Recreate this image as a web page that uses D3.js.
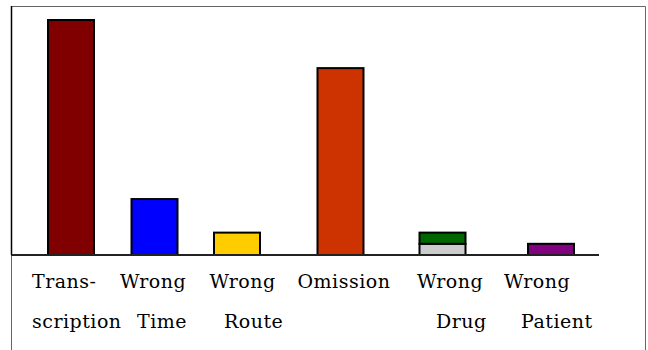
<!DOCTYPE html>
<html>
<head>
<meta charset="utf-8">
<script src="https://cdn.jsdelivr.net/npm/d3@7"></script>
<style>
  html, body { margin: 0; padding: 0; background: #fff; }
  svg { display: block; }
  .label { font-family: "DejaVu Serif", serif; font-size: 19px; letter-spacing: 0.5px; fill: #000; }
</style>
</head>
<body>
<div id="chart"></div>
<script>
// categories and values (error counts)
var categories = ['Transcription', 'Wrong Time', 'Wrong Route', 'Omission', 'Wrong Drug', 'Wrong Patient'];
var labelTop = ['Trans-', 'Wrong', 'Wrong', 'Omission', 'Wrong', 'Wrong'];
var labelBottom = ['scription', 'Time', 'Route', '', 'Drug', 'Patient'];
var baseValues = [21, 5, 2, 16.7, 1, 1];   // lower segment
var stackValues = [0, 0, 0, 0, 1, 0];      // upper segment (Wrong Drug only)

// styles
var baseColors = ['#800000', '#0000ff', '#ffcc00', '#cc3300', '#cccccc', '#800080'];
var stackColor = '#006600';

var svgWidth = 648, svgHeight = 350;
var baseY = 255;

var svg = d3.select('#chart').append('svg')
    .attr('width', svgWidth).attr('height', svgHeight);

// frame around the figure
svg.append('path')
    .attr('d', 'M11.5,350 V6.5 H645.5 V350')
    .attr('fill', 'none')
    .attr('stroke', '#666')
    .attr('stroke-width', 1);

// x: bars sit under their labels, spacing is uneven
var x = d3.scaleOrdinal()
    .domain(categories)
    .range([71, 154.5, 237, 340.5, 442.5, 551]);
var barWidth = 46;

// y
var y = d3.scaleLinear()
    .domain([0, 21])
    .range([baseY, 20]);

// y axis line (no ticks)
svg.append('line')
    .attr('x1', 11.5).attr('x2', 11.5)
    .attr('y1', 6).attr('y2', baseY)
    .attr('stroke', '#000').attr('stroke-width', 1.5);

var g = svg.append('g');

// lower segments
g.selectAll('rect.base')
    .data(categories)
    .enter().append('rect')
    .attr('class', 'base')
    .attr('x', function(d) { return x(d) - barWidth / 2; })
    .attr('y', function(d, i) { return y(baseValues[i]); })
    .attr('width', barWidth)
    .attr('height', function(d, i) { return y(0) - y(baseValues[i]); })
    .attr('fill', function(d, i) { return baseColors[i]; })
    .attr('stroke', '#000')
    .attr('stroke-width', 2);

// stacked segments
g.selectAll('rect.stack')
    .data(categories.filter(function(d, i) { return stackValues[i] > 0; }))
    .enter().append('rect')
    .attr('class', 'stack')
    .attr('x', function(d) { return x(d) - barWidth / 2; })
    .attr('y', function(d) {
        var i = categories.indexOf(d);
        return y(baseValues[i] + stackValues[i]);
    })
    .attr('width', barWidth)
    .attr('height', function(d) {
        var i = categories.indexOf(d);
        return y(baseValues[i]) - y(baseValues[i] + stackValues[i]);
    })
    .attr('fill', stackColor)
    .attr('stroke', '#000')
    .attr('stroke-width', 2);

// baseline
svg.append('line')
    .attr('x1', 11).attr('x2', 599)
    .attr('y1', baseY).attr('y2', baseY)
    .attr('stroke', '#222').attr('stroke-width', 2);

// category labels, two lines each, offsets from bar centre
var topOffset = [-39, -34.5, -27.5, -43, -25.5, -47];
var bottomOffset = [-39, -17.5, -13, 0, -6.5, -30];

svg.selectAll('text.top')
    .data(categories)
    .enter().append('text')
    .attr('class', 'label top')
    .attr('x', function(d, i) { return x(d) + topOffset[i]; })
    .attr('y', 288)
    .text(function(d, i) { return labelTop[i]; });

svg.selectAll('text.bottom')
    .data(categories)
    .enter().append('text')
    .attr('class', 'label bottom')
    .attr('x', function(d, i) { return x(d) + bottomOffset[i]; })
    .attr('y', 328)
    .text(function(d, i) { return labelBottom[i]; });
</script>
</body>
</html>
